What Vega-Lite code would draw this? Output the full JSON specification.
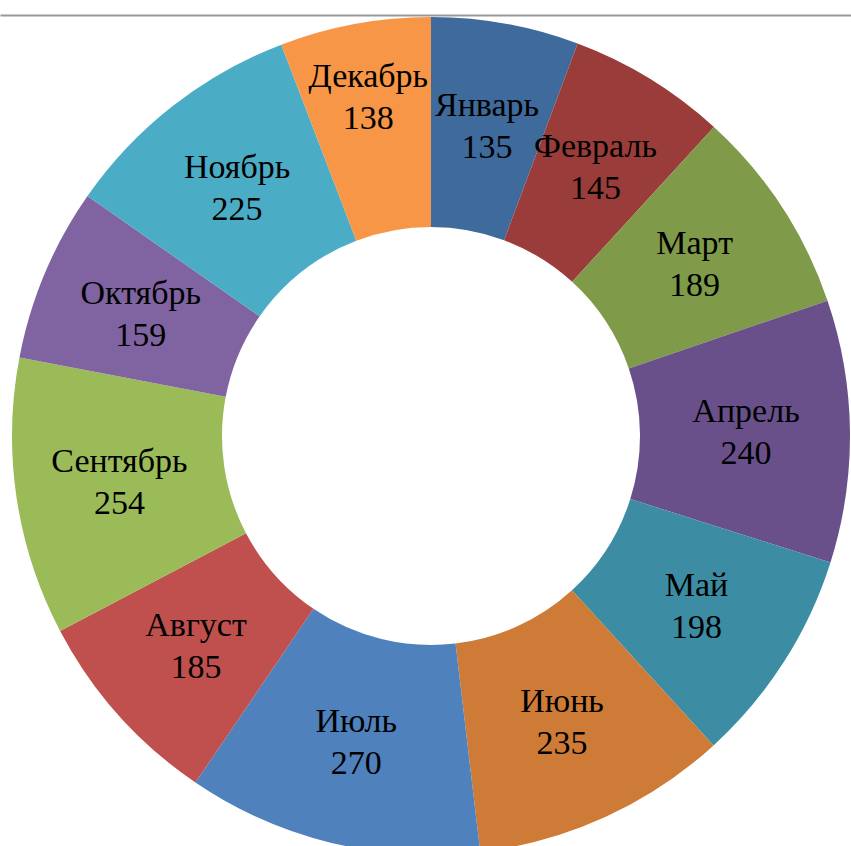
{
  "$schema": "https://vega.github.io/schema/vega-lite/v6.json",
  "autosize": {"type": "none"},
  "padding": {"left": 0, "top": 15, "right": 0, "bottom": 0},
  "width": 862,
  "height": 842,
  "background": "white",
  "config": {"view": {"stroke": null}},
  "data": {
    "values": [
      {"n": 1, "month": "Январь", "value": 135},
      {"n": 2, "month": "Февраль", "value": 145},
      {"n": 3, "month": "Март", "value": 189},
      {"n": 4, "month": "Апрель", "value": 240},
      {"n": 5, "month": "Май", "value": 198},
      {"n": 6, "month": "Июнь", "value": 235},
      {"n": 7, "month": "Июль", "value": 270},
      {"n": 8, "month": "Август", "value": 185},
      {"n": 9, "month": "Сентябрь", "value": 254},
      {"n": 10, "month": "Октябрь", "value": 159},
      {"n": 11, "month": "Ноябрь", "value": 225},
      {"n": 12, "month": "Декабрь", "value": 138}
    ]
  },
  "layer": [
    {
      "mark": {"type": "rule", "opacity": 0},
      "encoding": {
        "x": {
          "field": "value",
          "type": "quantitative",
          "axis": {"orient": "top", "domainColor": "#9a9a9a", "domainWidth": 2, "ticks": false, "labels": false, "title": null, "grid": false}
        }
      }
    },
    {
      "mark": {"type": "arc", "radius": 419, "radius2": 209},
      "encoding": {
        "theta": {"field": "value", "type": "quantitative", "stack": true},
        "order": {"field": "n", "type": "quantitative"},
        "color": {
          "field": "month",
          "type": "nominal",
          "legend": null,
          "scale": {
            "domain": ["Январь", "Февраль", "Март", "Апрель", "Май", "Июнь", "Июль", "Август", "Сентябрь", "Октябрь", "Ноябрь", "Декабрь"],
            "range": ["#3F6A9C", "#9A3D3A", "#7F9A48", "#69508B", "#3C8DA3", "#CD7B37", "#4F81BD", "#C0504D", "#9BBB59", "#8064A2", "#4BACC6", "#F79646"]
          }
        }
      }
    },
    {
      "mark": {"type": "text", "radius": {"expr": "datum.month == 'Декабрь' ? 345 : 315"}, "dy": -20, "font": "'Liberation Serif', 'Times New Roman', serif", "fontSize": 34, "color": "black", "baseline": "middle", "align": "center"},
      "encoding": {
        "theta": {"field": "value", "type": "quantitative", "stack": true},
        "order": {"field": "n", "type": "quantitative"},
        "text": {"field": "month", "type": "nominal"}
      }
    },
    {
      "mark": {"type": "text", "radius": {"expr": "datum.month == 'Декабрь' ? 345 : 315"}, "dy": 22, "font": "'Liberation Serif', 'Times New Roman', serif", "fontSize": 34, "color": "black", "baseline": "middle", "align": "center"},
      "encoding": {
        "theta": {"field": "value", "type": "quantitative", "stack": true},
        "order": {"field": "n", "type": "quantitative"},
        "text": {"field": "value", "type": "quantitative"}
      }
    }
  ]
}
